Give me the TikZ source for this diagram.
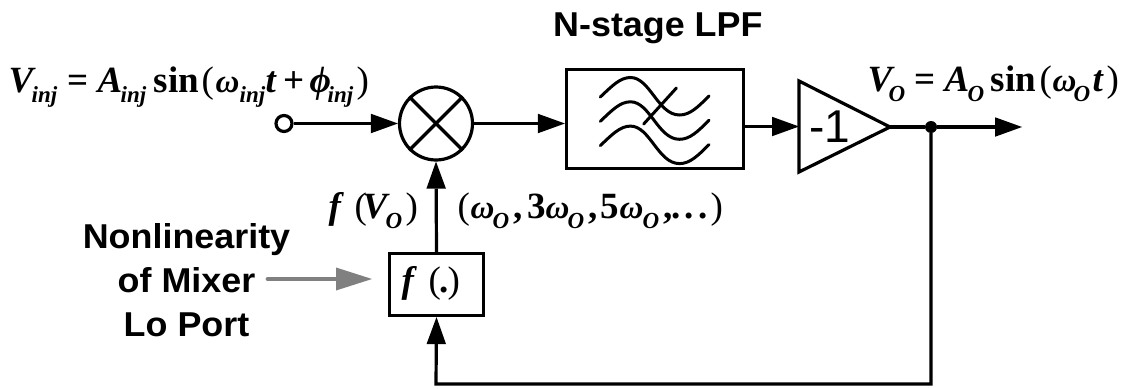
\documentclass[tikz,border=0pt]{standalone}
\usepackage{fontspec}
\setmainfont{Liberation Serif}
\newfontfamily\arialb[FakeStretch=1.04]{Liberation Sans Bold}
\newfontfamily\arialr{Liberation Sans}
\newfontfamily\bifont{Liberation Serif Bold Italic}
\newfontfamily\bfont{Liberation Serif Bold}
\newfontfamily\rfont{Liberation Serif}
\usetikzlibrary{arrows.meta}
\newcommand\mainsz{\fontsize{37pt}{40pt}\selectfont}
\newcommand\gat[2]{\rlap{\hspace*{#1pt}#2}}
\newcommand\bi[2]{\gat{#1}{\mainsz\bifont #2}}
\newcommand\bu[2]{\gat{#1}{\mainsz\bfont #2}}
\newcommand\ru[2]{\gat{#1}{\mainsz\rfont #2}}
\newcommand\om[1]{\gat{#1}{\fontsize{33pt}{40pt}\selectfont\bifont ω}}
\newcommand\sbs[2]{\gat{#1}{\raisebox{-10pt}{\fontsize{23pt}{26pt}\selectfont\bifont #2}}}
\tikzset{
 x=1pt,y=-1pt,
 wire/.style={line width=3.2pt,draw=black,line join=miter},
 tip/.style={-{Triangle[length=27pt,width=19.5pt,line width=0pt]}},
 blk/.style={line width=3.2pt,draw=black},
 sans/.style={font=\fontsize{34.5pt}{44pt}\selectfont\arialb,inner sep=0pt},
 mathlbl/.style={anchor=base west,inner sep=0pt},
 wave/.style={line width=3pt,line cap=round},
}
\begin{document}
\begin{tikzpicture}
\useasboundingbox (0,0) rectangle (1131,388);
% nodes
\node[circle,blk,minimum size=73pt,inner sep=0pt] (mix) at (436,123.5) {};
\node[circle,blk,minimum size=16pt,inner sep=0pt] (src) at (284,123.5) {};
\node[rectangle,blk,minimum width=177pt,minimum height=99pt,inner sep=0pt] (lpf) at (655,119) {};
\coordinate (ampL) at (799,126.5);
\coordinate (ampT) at (799,81);
\coordinate (ampB) at (799,172);
\coordinate (ampA) at (890,127);
\draw[blk,line join=miter] (ampT) -- (ampA) -- (ampB) -- cycle;
\node[anchor=base west,font=\fontsize{46pt}{46pt}\selectfont\arialr,inner sep=0pt] (gain) at (809,142) {-1};
\node[rectangle,blk,minimum width=94pt,minimum height=62pt,inner sep=0pt] (fb) at (436.5,284.5) {};
\node[mathlbl] (flbl) at (0,292) {\bi{401}{f}\ru{428}{(}\bu{439}{.}\ru{447}{)}};
\node[circle,fill=black,minimum size=12pt,inner sep=0pt] (jn) at (931,127) {};
\coordinate (out) at (1022,127);
\coordinate (bl) at (436,384);
\coordinate (br) at (931,384);
\coordinate (gs) at (268,279);
\coordinate (ge) at (372,279);
\coordinate (lpfin) at (lpf.west |- mix.east);
\coordinate (lpfout) at (lpf.east |- ampL);
% mixer cross
\draw[wire] (mix.45) -- (mix.225);
\draw[wire] (mix.135) -- (mix.315);
% connectors
\draw[wire,tip] (src.east) -- (mix.west);
\draw[wire,tip] (mix.east) -- (lpfin);
\draw[wire,tip] (lpfout) -- (ampL);
\draw[wire] (ampA) -- (jn);
\draw[wire,tip] (jn) -- (out);
\draw[wire,tip] (fb.north) -- (mix.south);
\draw[wire,tip] (jn) -- (br) -- (bl) -- (fb.south);
% gray arrow
\draw[line width=4.8pt,draw=black!50,line cap=round,-{Triangle[length=36pt,width=23pt,line width=0pt]}] (gs) -- (ge);
% filter waves
\foreach \d in {0,24.3,48.6}{
 \draw[wave] (600.3,97+\d) .. controls (612,86+\d) and (620,77.5+\d) .. (630.5,77.5+\d)
   .. controls (650,77.5+\d) and (658,115+\d) .. (679.5,115+\d)
   .. controls (690,115+\d) and (698,107+\d) .. (709,96+\d);
}
\draw[wave] (643.7,124) -- (676.4,88);
% labels
\node[sans,anchor=base west] (title) at (553,36.7) {N-stage LPF};
\node[sans,align=center] (nl) at (186.5,280) {Nonlinearity\\of Mixer\\Lo Port};
\node[mathlbl] (vinj) at (0,92) {\bi{8}{V}\sbs{31}{inj}\bu{67}{=}\bi{97}{A}\sbs{120}{inj}\bu{153}{sin}\ru{201}{(}\om{215}\sbs{239}{inj}\bi{265}{t}\bu{283}{+}\bi{309}{ϕ}\sbs{327}{inj}\ru{356}{)}};
\node[mathlbl] (vo) at (0,91.5) {\bi{867}{V}\sbs{888}{O}\bu{914}{=}\bi{944}{A}\sbs{967}{O}\bu{990}{sin}\ru{1039}{(}\om{1052}\sbs{1073}{O}\bi{1092}{t}\ru{1106}{)}};
\node[mathlbl] (fv) at (0,218) {\bi{328}{f}\ru{354}{(}\bi{362}{V}\sbs{385}{O}\ru{405}{)}};
\node[mathlbl] (harm) at (0,218) {\ru{457}{(}\om{470}\sbs{492}{O}\bu{513}{,}\bu{527}{3}\om{545}\sbs{567}{O}\bu{588}{,}\bu{600}{5}\om{619}\sbs{642}{O}\bu{663}{,}\bu{671}{.}\bu{684}{.}\bu{698}{.}\ru{710}{)}};
\end{tikzpicture}
\end{document}
